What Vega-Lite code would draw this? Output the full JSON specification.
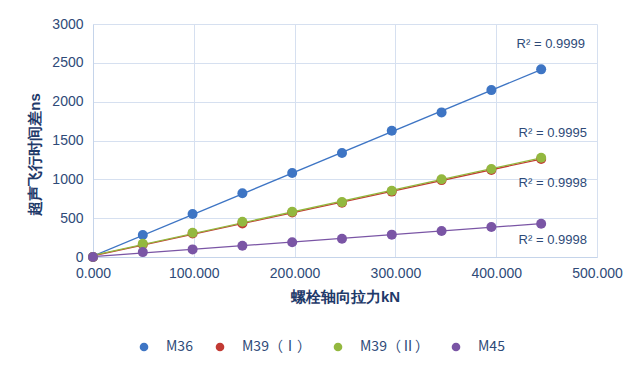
{
  "$schema": "https://vega.github.io/schema/vega-lite/v6.json",
  "autosize": "none",
  "width": 504,
  "height": 233,
  "padding": {"left": 93, "top": 24, "right": 40, "bottom": 122},
  "background": "white",
  "config": {
    "font": "Liberation Sans",
    "view": {"stroke": null},
    "axis": {
      "labelColor": "#2e4a78",
      "titleColor": "#1f3a6a",
      "gridColor": "#d6e0f0",
      "domainColor": "#c5d4ea",
      "ticks": false,
      "labelFontSize": 14,
      "titleFontSize": 15,
      "titleFontWeight": "bold",
      "labelFlush": false,
      "labelOverlap": false
    },
    "legend": {
      "symbolType": "circle"
    }
  },
  "datasets": {
    "pts": [
      {"series": "M36", "force": 0, "dt": 0},
      {"series": "M36", "force": 49.4, "dt": 283},
      {"series": "M36", "force": 98.8, "dt": 553},
      {"series": "M36", "force": 148.2, "dt": 820},
      {"series": "M36", "force": 197.6, "dt": 1081},
      {"series": "M36", "force": 247, "dt": 1338},
      {"series": "M36", "force": 296.4, "dt": 1626},
      {"series": "M36", "force": 345.8, "dt": 1862},
      {"series": "M36", "force": 395.2, "dt": 2149},
      {"series": "M36", "force": 444.6, "dt": 2416},
      {"series": "M39（Ⅰ）", "force": 0, "dt": 0},
      {"series": "M39（Ⅰ）", "force": 49.4, "dt": 162},
      {"series": "M39（Ⅰ）", "force": 98.8, "dt": 302},
      {"series": "M39（Ⅰ）", "force": 148.2, "dt": 432},
      {"series": "M39（Ⅰ）", "force": 197.6, "dt": 572},
      {"series": "M39（Ⅰ）", "force": 247, "dt": 698},
      {"series": "M39（Ⅰ）", "force": 296.4, "dt": 842},
      {"series": "M39（Ⅰ）", "force": 345.8, "dt": 990},
      {"series": "M39（Ⅰ）", "force": 395.2, "dt": 1120},
      {"series": "M39（Ⅰ）", "force": 444.6, "dt": 1262},
      {"series": "M39（Ⅱ）", "force": 0, "dt": 0},
      {"series": "M39（Ⅱ）", "force": 49.4, "dt": 171},
      {"series": "M39（Ⅱ）", "force": 98.8, "dt": 313},
      {"series": "M39（Ⅱ）", "force": 148.2, "dt": 455},
      {"series": "M39（Ⅱ）", "force": 197.6, "dt": 583},
      {"series": "M39（Ⅱ）", "force": 247, "dt": 707},
      {"series": "M39（Ⅱ）", "force": 296.4, "dt": 853},
      {"series": "M39（Ⅱ）", "force": 345.8, "dt": 1000},
      {"series": "M39（Ⅱ）", "force": 395.2, "dt": 1133},
      {"series": "M39（Ⅱ）", "force": 444.6, "dt": 1278},
      {"series": "M45", "force": 0, "dt": 0},
      {"series": "M45", "force": 49.4, "dt": 63},
      {"series": "M45", "force": 98.8, "dt": 98},
      {"series": "M45", "force": 148.2, "dt": 145},
      {"series": "M45", "force": 197.6, "dt": 191},
      {"series": "M45", "force": 247, "dt": 236},
      {"series": "M45", "force": 296.4, "dt": 288},
      {"series": "M45", "force": 345.8, "dt": 335},
      {"series": "M45", "force": 395.2, "dt": 386},
      {"series": "M45", "force": 444.6, "dt": 429}
    ],
    "r2": [
      {"label": "R² = 0.9999", "force": 488, "dt": 2737},
      {"label": "R² = 0.9995", "force": 490, "dt": 1603},
      {"label": "R² = 0.9998", "force": 490, "dt": 947},
      {"label": "R² = 0.9998", "force": 490, "dt": 214}
    ]
  },
  "encoding": {
    "x": {"field": "force", "type": "quantitative",
      "scale": {"domain": [0, 500]},
      "axis": {"format": ".3f", "values": [0, 100, 200, 300, 400, 500], "title": "螺栓轴向拉力kN", "labelPadding": 9, "titlePadding": 9}},
    "y": {"field": "dt", "type": "quantitative",
      "scale": {"domain": [0, 3000]},
      "axis": {"format": "d", "values": [0, 500, 1000, 1500, 2000, 2500, 3000], "title": "超声飞行时间差ns", "labelPadding": 10, "titlePadding": 9, "titleY": 130}}
  },
  "layer": [
    {
      "data": {"name": "pts"},
      "transform": [
        {"regression": "dt", "on": "force", "groupby": ["series"], "extent": [0, 444.6]}
      ],
      "mark": {"type": "line", "strokeWidth": 1.3},
      "encoding": {
        "color": {"field": "series", "type": "nominal",
          "scale": {"domain": ["M36", "M39（Ⅰ）", "M39（Ⅱ）", "M45"], "range": ["#3e75c4", "#c23a33", "#93b83f", "#7a55a5"]},
          "legend": {"title": null, "orient": "none", "direction": "horizontal", "legendX": 44, "legendY": 316,
            "symbolType": "circle", "symbolSize": 75, "symbolStrokeWidth": 0, "labelFontSize": 14, "labelFont": "Noto Sans CJK SC", "labelColor": "#2e4a78", "labelOffset": 15, "columnPadding": 20}}
      }
    },
    {
      "data": {"name": "pts"},
      "mark": {"type": "circle", "size": 100, "opacity": 1},
      "encoding": {
        "color": {"field": "series", "type": "nominal",
          "scale": {"domain": ["M36", "M39（Ⅰ）", "M39（Ⅱ）", "M45"], "range": ["#3e75c4", "#c23a33", "#93b83f", "#7a55a5"]},
          "legend": {"title": null, "orient": "none", "direction": "horizontal", "legendX": 44, "legendY": 316,
            "symbolType": "circle", "symbolSize": 75, "symbolStrokeWidth": 0, "labelFontSize": 14, "labelFont": "Noto Sans CJK SC", "labelColor": "#2e4a78", "labelOffset": 15, "columnPadding": 20}}
      }
    },
    {
      "data": {"name": "r2"},
      "mark": {"type": "text", "align": "right", "fontSize": 13, "color": "#2e4a78"},
      "encoding": {
        "text": {"field": "label"}
      }
    }
  ]
}
